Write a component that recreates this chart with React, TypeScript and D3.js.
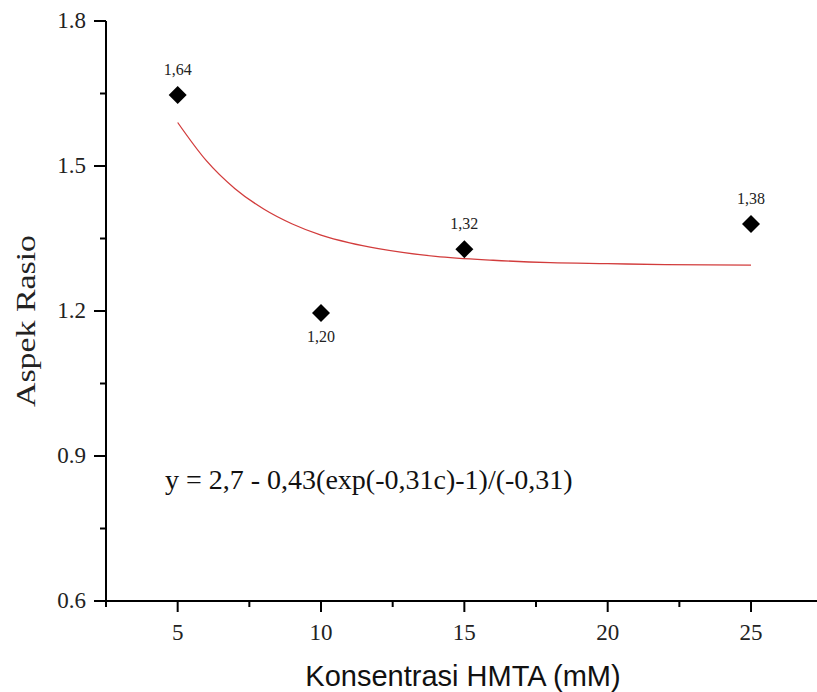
import React from "react";
import * as d3 from "d3";

const concentrations = [5, 10, 15, 25];
const aspectRatios = [1.647, 1.196, 1.328, 1.38];
const pointLabels = ["1,64", "1,20", "1,32", "1,38"];
const labelBelow = [false, true, false, false];

const fitX = [5, 6, 7, 8, 9, 10, 11, 12, 14, 16, 18, 20, 22, 25];
const fitY = [1.59, 1.511, 1.453, 1.411, 1.38, 1.357, 1.341, 1.329, 1.313, 1.305, 1.3, 1.298, 1.296, 1.295];

const xMajorTicks = [5, 10, 15, 20, 25];
const xMinorTicks = [2.5, 7.5, 12.5, 17.5, 22.5];
const yMajorTicks = [0.6, 0.9, 1.2, 1.5, 1.8];
const yMinorTicks = [0.75, 1.05, 1.35, 1.65];

const xTitle = "Konsentrasi HMTA (mM)";
const yTitle = "Aspek Rasio";
const equation = "y = 2,7 - 0,43(exp(-0,31c)-1)/(-0,31)";

const W = 817;
const H = 692;

export default function App() {
  const x = d3.scaleLinear().domain([2.5, 27.5]).range([106, 822.7]);
  const y = d3.scaleLinear().domain([0.6, 1.8]).range([601, 21]);
  const line = d3
    .line<number>()
    .x((d, i) => x(fitX[i]))
    .y((d) => y(d))
    .curve(d3.curveMonotoneX);
  const serif = "'Liberation Serif', 'Times New Roman', serif";
  const sans = "'Liberation Sans', Arial, sans-serif";
  const diamond = (cx: number, cy: number, r: number) =>
    `M${cx},${cy - r}L${cx + r},${cy}L${cx},${cy + r}L${cx - r},${cy}Z`;

  return (
    <svg
      width={W}
      height={H}
      style={{ position: "absolute", left: 0, top: 0, background: "#fff" }}
    >
      <rect x={0} y={0} width={W} height={H} fill="#fff" />
      {/* fit curve */}
      <path d={line(fitY) || ""} fill="none" stroke="#d23c3c" strokeWidth={1.3} />
      {/* axes */}
      <line x1={x(2.5)} x2={W} y1={y(0.6)} y2={y(0.6)} stroke="#000" strokeWidth={2} />
      <line x1={x(2.5)} x2={x(2.5)} y1={y(1.8)} y2={y(0.6) + 6} stroke="#000" strokeWidth={2} />
      {xMajorTicks.map((t) => (
        <g key={"xm" + t}>
          <line x1={x(t)} x2={x(t)} y1={y(0.6)} y2={y(0.6) + 11} stroke="#000" strokeWidth={2} />
          <text x={x(t)} y={y(0.6) + 39} textAnchor="middle" fontFamily={serif} fontSize={23} fill="#222">
            {t}
          </text>
        </g>
      ))}
      {xMinorTicks.map((t) => (
        <line key={"xn" + t} x1={x(t)} x2={x(t)} y1={y(0.6)} y2={y(0.6) + 6} stroke="#000" strokeWidth={2} />
      ))}
      {yMajorTicks.map((t) => (
        <g key={"ym" + t}>
          <line x1={x(2.5) - 12} x2={x(2.5)} y1={y(t)} y2={y(t)} stroke="#000" strokeWidth={2} />
          <text x={x(2.5) - 20} y={y(t) + 7} textAnchor="end" fontFamily={serif} fontSize={23} fill="#222">
            {t.toFixed(1)}
          </text>
        </g>
      ))}
      {yMinorTicks.map((t) => (
        <line key={"yn" + t} x1={x(2.5) - 6} x2={x(2.5)} y1={y(t)} y2={y(t)} stroke="#000" strokeWidth={2} />
      ))}
      {/* points */}
      {concentrations.map((c, i) => (
        <g key={"p" + c}>
          <path d={diamond(x(c), y(aspectRatios[i]), 9)} fill="#000" />
          <text
            x={x(c)}
            y={labelBelow[i] ? y(aspectRatios[i]) + 29 : y(aspectRatios[i]) - 20}
            textAnchor="middle"
            fontFamily={serif}
            fontSize={16}
            fill="#222"
          >
            {pointLabels[i]}
          </text>
        </g>
      ))}
      {/* equation */}
      <text x={165} y={489} fontFamily={serif} fontSize={28} fill="#111">
        {equation}
      </text>
      {/* titles */}
      <text
        transform={`translate(35, 321) rotate(-90)`}
        textAnchor="middle"
        fontFamily={serif}
        fontSize={27}
        textLength={172}
        lengthAdjust="spacingAndGlyphs"
        fill="#222"
      >
        {yTitle}
      </text>
      <text x={463} y={686} textAnchor="middle" fontFamily={sans} fontSize={29} fill="#111">
        {xTitle}
      </text>
    </svg>
  );
}
